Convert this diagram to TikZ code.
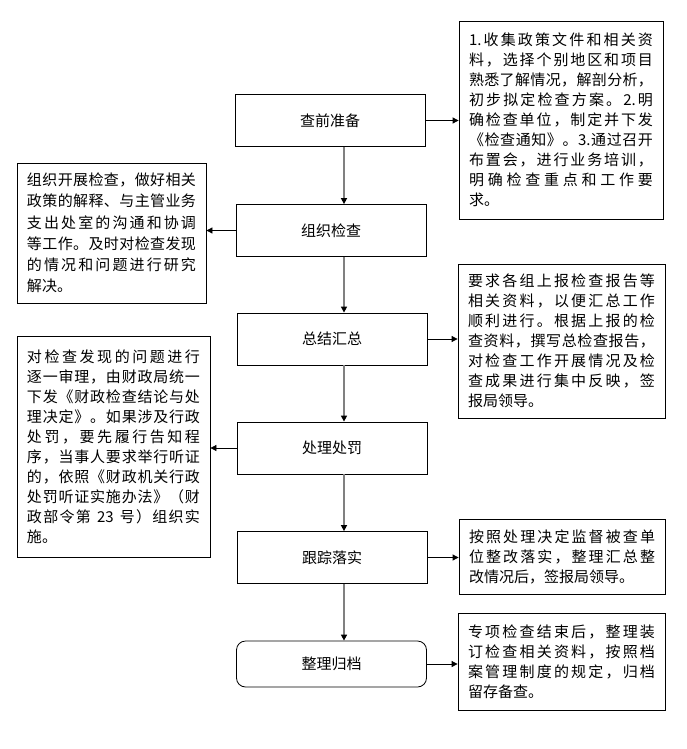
\documentclass[tikz,border=0pt]{standalone}
\usepackage{fontspec}
\setmainfont{Noto Sans CJK SC}
\usetikzlibrary{arrows.meta}
% justified line: spread the tokens of #1 over the line width
\newcommand\jl[1]{\leavevmode\hbox to\linewidth{\jlA#1\jlend}}
\let\jlend\relax
\def\jlA#1{#1\futurelet\jlnext\jlB}
\def\jlB{\ifx\jlnext\jlend\expandafter\jlC\else\hfil\expandafter\jlA\fi}
\def\jlC\jlend{}
\tikzset{
  mainbox/.style={draw, line width=0.8pt, minimum width=190pt, minimum height=52pt,
    inner sep=0pt, font=\fontsize{15}{18}\selectfont},
  sidebox/.style={draw, line width=0.8pt, inner xsep=10pt, inner ysep=0pt,
    align=left, font=\fontsize{15}{20}\selectfont},
  flow/.style={draw={rgb,255:red,128;green,128;blue,128}, line width=1.5pt,
    -{Triangle[length=6pt,width=6pt,color=black]}},
  side/.style={draw=black, line width=0.8pt, -{Triangle[length=6pt,width=6pt]}}
}
\begin{document}
\begin{tikzpicture}[x=1pt,y=-1pt]
\fill[white] (0,0) rectangle (686,749);
\useasboundingbox (0,0) rectangle (686,749);
% main column
\node[mainbox] (a1) at (330,120.5) {查前准备};
\node[mainbox] (a2) at (331,230.5) {组织检查};
\node[mainbox] (a3) at (332,339) {总结汇总};
\node[mainbox] (a4) at (332,448) {处理处罚};
\node[mainbox] (a5) at (332,557.5) {跟踪落实};
\node[mainbox, minimum height=46pt, rounded corners=9pt] (a6) at (331.5,664) {整理归档};
% side boxes
\node[sidebox, text width=184pt, minimum height=198pt] (b1) at (561,120) {%
\jl{{1.}收集政策文件和相关资}\\
\jl{料，选择个别地区和项目}\\
\jl{熟悉了解情况，解剖分析，}\\
\jl{初步拟定检查方案。{2.}明}\\
\jl{确检查单位，制定并下发}\\
\jl{《检查通知》。{3.}通过召开}\\
\jl{布置会，进行业务培训，}\\
\jl{明确检查重点和工作要}\\
求。};
\node[sidebox, text width=169pt, minimum height=140pt,
  font=\fontsize{15}{21.3}\selectfont] (b2) at (111.5,233) {%
\jl{组织开展检查，做好相关}\\
\jl{政策的解释、与主管业务}\\
\jl{支出处室的沟通和协调}\\
\jl{等工作。及时对检查发现}\\
\jl{的情况和问题进行研究}\\
解决。};
\node[sidebox, text width=187pt, minimum height=154pt] (b3) at (561.5,341) {%
\jl{要求各组上报检查报告等}\\
\jl{相关资料，以便汇总工作}\\
\jl{顺利进行。根据上报的检}\\
\jl{查资料，撰写总检查报告，}\\
\jl{对检查工作开展情况及检}\\
\jl{查成果进行集中反映，签}\\
报局领导。};
\node[sidebox, text width=173pt, minimum height=221pt] (b4) at (113.5,446.5) {%
\jl{对检查发现的问题进行}\\
\jl{逐一审理，由财政局统一}\\
\jl{下发《财政检查结论与处}\\
\jl{理决定》。如果涉及行政}\\
\jl{处罚，要先履行告知程}\\
\jl{序，当事人要求举行听证}\\
\jl{的，依照《财政机关行政}\\
\jl{处罚听证实施办法》（财}\\
\jl{政部令第{\ 23\ }号）组织实}\\
施。};
\node[sidebox, text width=186pt, minimum height=75pt] (b5) at (562,556.5) {%
\jl{按照处理决定监督被查单}\\
\jl{位整改落实，整理汇总整}\\
改情况后，签报局领导。};
\node[sidebox, text width=187pt, minimum height=97pt] (b6) at (561.5,661.5) {%
\jl{专项检查结束后，整理装}\\
\jl{订检查相关资料，按照档}\\
\jl{案管理制度的规定，归档}\\
留存备查。};
% vertical flow
\coordinate (vx) at (344,0);
\draw[flow] (a1.south -| vx) -- (a2.north -| vx);
\draw[flow] (a2.south -| vx) -- (a3.north -| vx);
\draw[flow] (a3.south -| vx) -- (a4.north -| vx);
\draw[flow] (a4.south -| vx) -- (a5.north -| vx);
\draw[flow] (a5.south -| vx) -- (a6.north -| vx);
% side arrows
\draw[side] (a1.east) -- (a1.east -| b1.west);
\draw[side] (a2.west) -- (a2.west -| b2.east);
\draw[side] (a3.east) -- (a3.east -| b3.west);
\draw[side] (a4.west) -- (a4.west -| b4.east);
\draw[side] (a5.east) -- (a5.east -| b5.west);
\draw[side] (a6.east) -- (a6.east -| b6.west);
\end{tikzpicture}
\end{document}
